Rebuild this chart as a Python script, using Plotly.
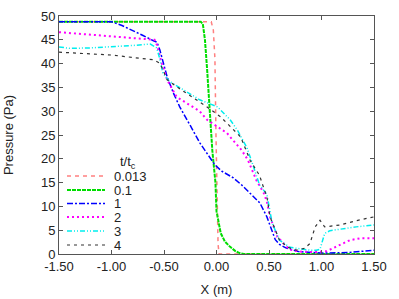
import plotly.graph_objects as go

# t/tc = 0.013
x_0013 = [-1.5, -0.05, -0.03, -0.015, -0.005, 0.005, 0.015, 0.025, 1.5]
p_0013 = [48.8, 48.8, 47.0, 41.0, 25.0, 10.0, 2.0, 0.0, 0.0]

# t/tc = 0.1
x_01 = [-1.5, -0.15, -0.13, -0.11, -0.09, -0.07, -0.04, -0.01, 0.0, 0.04, 0.08, 0.13, 0.18, 0.22, 0.26, 1.5]
p_01 = [48.8, 48.8, 48.3, 45.0, 39.0, 32.0, 21.8, 15.0, 9.0, 4.4, 2.6, 1.5, 0.6, 0.2, 0.0, 0.0]

# t/tc = 1
x_1 = [-1.5, -1.0, -0.9, -0.8, -0.7, -0.6, -0.567, -0.54, -0.5, -0.47, -0.41, -0.35, -0.25, -0.157,
       -0.08, -0.014, 0.05, 0.16, 0.24, 0.32, 0.414, 0.48, 0.51, 0.56, 0.6, 0.66, 0.78, 0.9, 1.0, 1.25, 1.5]
p_1 = [48.8, 48.8, 48.0, 47.0, 45.9, 44.8, 44.5, 42.9, 39.5, 37.2, 33.8, 30.9, 27.0, 23.3,
       20.8, 18.7, 17.4, 16.0, 14.5, 12.7, 10.7, 7.8, 6.0, 3.0, 2.0, 1.3, 0.5, 0.25, 0.2, 0.3, 0.8]

# t/tc = 2
x_2 = [-1.5, -1.06, -0.8, -0.59, -0.567, -0.52, -0.47, -0.38, -0.27, -0.16, -0.09, 0.0, 0.1, 0.13,
       0.24, 0.3, 0.38, 0.45, 0.48, 0.51, 0.58, 0.67, 0.7, 0.8, 0.95, 1.05, 1.14, 1.27, 1.37, 1.5]
p_2 = [46.6, 45.8, 45.4, 45.0, 43.9, 40.0, 36.6, 33.0, 31.5, 30.0, 28.2, 26.8, 25.4, 24.6,
       21.8, 19.7, 15.5, 12.8, 11.0, 7.8, 3.6, 1.5, 0.9, 0.5, 0.4, 0.6, 1.5, 2.9, 3.3, 3.3]

# t/tc = 3
x_3 = [-1.5, -1.4, -1.2, -1.0, -0.8, -0.63, -0.57, -0.54, -0.51, -0.45, -0.26, -0.16, 0.01, 0.13,
       0.2, 0.29, 0.35, 0.41, 0.48, 0.53, 0.6, 0.7, 0.89, 0.95, 0.986, 1.03, 1.08, 1.2, 1.33, 1.5]
p_3 = [43.5, 43.2, 43.3, 43.5, 43.8, 44.1, 43.3, 41.0, 38.0, 36.3, 33.8, 32.4, 30.9, 28.2,
       26.0, 22.3, 18.5, 14.5, 12.5, 6.5, 2.9, 1.4, 0.8, 0.8, 1.0, 4.3, 4.9, 5.3, 5.7, 6.1]

# t/tc = 4
x_4 = [-1.5, -1.0, -0.6, -0.54, -0.51, -0.47, -0.35, -0.19, -0.09, 0.04, 0.23, 0.32, 0.41, 0.44,
       0.48, 0.51, 0.6, 0.68, 0.76, 0.84, 0.89, 0.94, 0.986, 1.03, 1.18, 1.33, 1.5]
p_4 = [42.4, 41.8, 40.8, 40.1, 38.7, 36.6, 34.7, 32.4, 30.9, 28.8, 24.6, 19.7, 16.5, 14.5,
       12.0, 7.8, 2.9, 1.4, 0.8, 1.2, 2.2, 5.7, 7.1, 5.7, 6.1, 7.0, 7.8]

labels = ["0.013", "0.1", "1", "2", "3", "4"]
legend_title = "t/t<sub>c</sub>"
xs = [x_0013, x_01, x_1, x_2, x_3, x_4]
ps = [p_0013, p_01, p_1, p_2, p_3, p_4]
x_ticks = [-1.5, -1.0, -0.5, 0.0, 0.5, 1.0, 1.5]
x_ticklabels = ["-1.50", "-1.00", "-0.50", "0.00", "0.50", "1.00", "1.50"]
y_ticks = [0, 5, 10, 15, 20, 25, 30, 35, 40, 45, 50]

colors = ["#ff8080", "#00dd00", "#0000ff", "#ff00ff", "#00eeee", "#333333"]
dashes = ["4px,4px", "4px,1px", "6px,2px,2px,2px", "2px,3px", "5px,2px,1px,2px,1px,2px", "3px,4px"]
widths = [1.5, 2, 1.5, 2, 1.5, 1.2]

FONT = "Liberation Sans"
fig = go.Figure()
for x, p, lab, c, d, w in zip(xs, ps, labels, colors, dashes, widths):
    fig.add_trace(go.Scatter(x=x, y=p, mode="lines", name=lab, showlegend=False,
                             line=dict(color=c, dash=d, width=w)))

# manual legend (plot-area paper coordinates)
W, H, L, T = 399, 299, 59, 16
PW, PH = 315, 238
def px2x(px):
    return (px - L) / PW
def py2y(py):
    return (T + PH - py) / PH

row_y = [176, 190, 203.5, 217, 231, 245]
for lab, c, d, w, ry in zip(labels, colors, dashes, widths, row_y):
    fig.add_shape(type="line", xref="paper", yref="paper",
                  x0=px2x(67), x1=px2x(105), y0=py2y(ry), y1=py2y(ry),
                  line=dict(color=c, dash=d, width=w))
    fig.add_annotation(xref="paper", yref="paper", x=px2x(112), y=py2y(ry),
                       text=lab, showarrow=False, xanchor="left", yanchor="middle",
                       font=dict(family=FONT, size=13, color="#222"))
fig.add_annotation(xref="paper", yref="paper", x=px2x(128), y=py2y(162),
                   text=legend_title, showarrow=False, xanchor="center", yanchor="middle",
                   font=dict(family=FONT, size=13, color="#222"))

axis_common = dict(showline=True, linecolor="#555555", linewidth=1, mirror="ticks",
                   ticks="inside", ticklen=4, tickcolor="#555555", showgrid=False,
                   zeroline=False, automargin=False,
                   tickfont=dict(family=FONT, size=13, color="#222"))
fig.update_xaxes(range=[-1.5, 1.5], tickvals=x_ticks, ticktext=x_ticklabels,
                 title=dict(text="X (m)", font=dict(family=FONT, size=13, color="#222"), standoff=12),
                 **axis_common)
fig.update_yaxes(range=[0, 50], tickvals=y_ticks,
                 title=dict(text="Pressure (Pa)", font=dict(family=FONT, size=13, color="#222"), standoff=24),
                 **axis_common)

fig.update_layout(
    width=W, height=H,
    margin=dict(l=L, r=W - L - PW, t=T, b=H - T - PH),
    paper_bgcolor="white", plot_bgcolor="white",
    showlegend=False,
)

fig.write_html("out.html", config={"displayModeBar": False, "staticPlot": True},
               post_script="document.body.style.margin='0';document.body.style.overflow='hidden';")
